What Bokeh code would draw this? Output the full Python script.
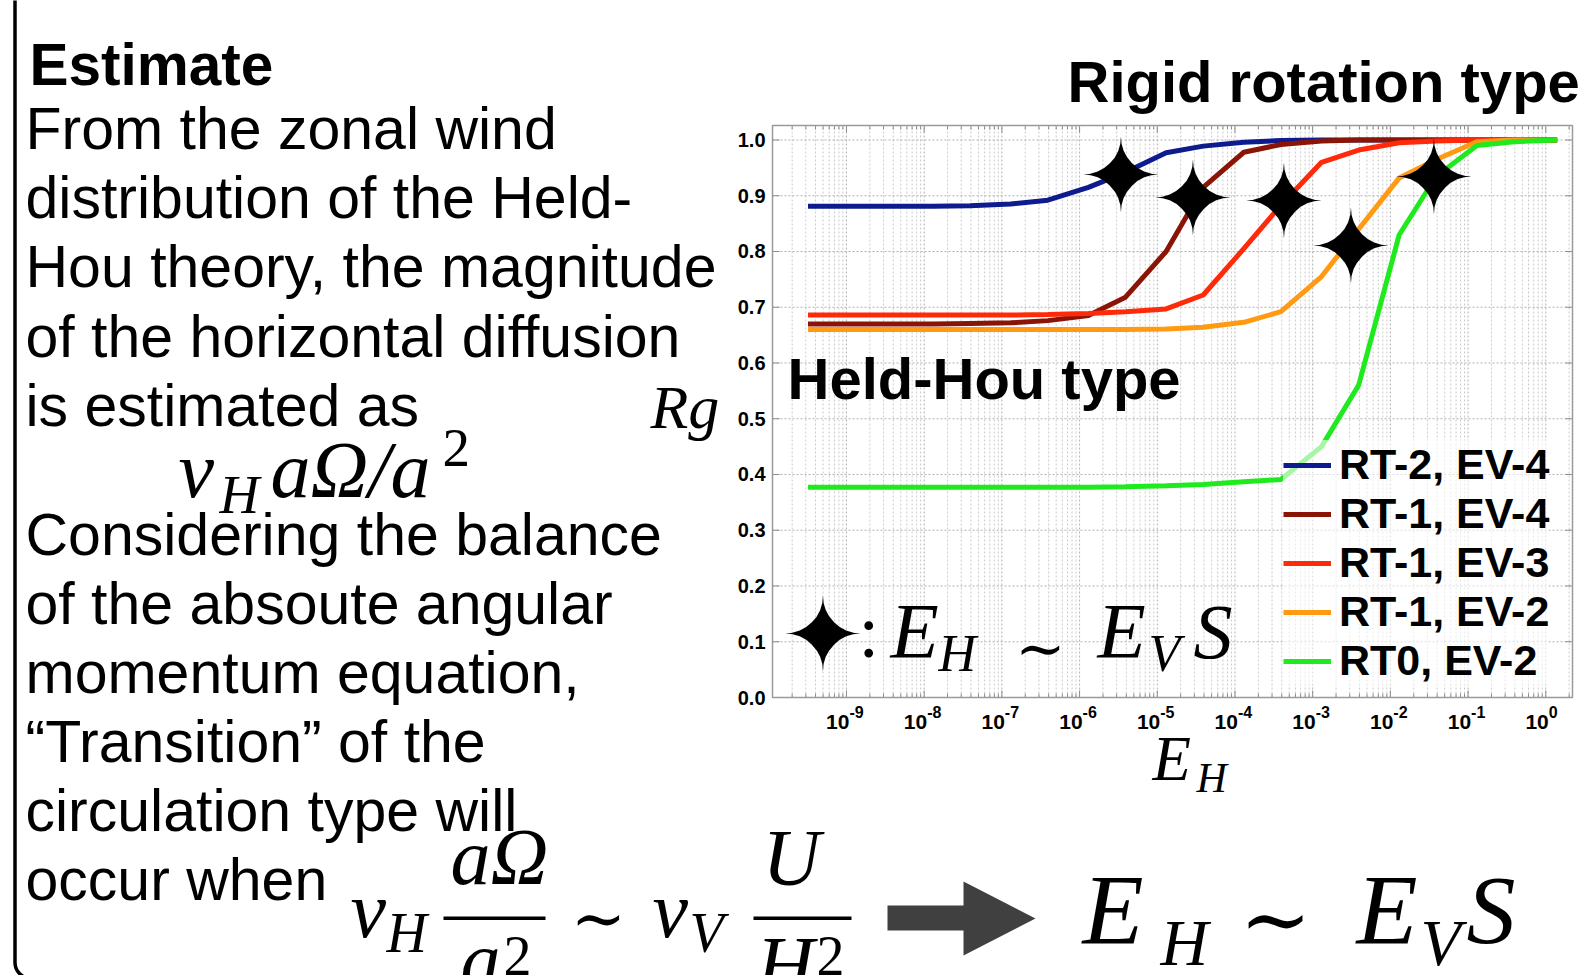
from math import pi
from bokeh.plotting import figure
from bokeh.models import (Range1d, LinearScale, LogScale, Label, Legend, LegendItem,
                          BoxAnnotation, PolyAnnotation)
from bokeh.core.properties import value
from bokeh.embed import file_html
from bokeh.resources import INLINE

# ---------------- data ----------------
eh = [3.2e-10, 1.3e-9, 3.9e-9, 1.3e-8, 3.9e-8, 1.3e-7, 3.9e-7, 1.3e-6, 3.9e-6, 1.3e-5,
      3.9e-5, 1.3e-4, 3.9e-4, 1.3e-3, 3.9e-3, 1.3e-2, 3.9e-2, 1.3e-1, 3.9e-1, 1.4]
rg_rt2_ev4 = [0.881, 0.881, 0.881, 0.881, 0.882, 0.885, 0.892, 0.915, 0.942, 0.977,
              0.989, 0.996, 0.999, 1.0, 1.0, 1.0, 1.0, 1.0, 1.0, 1.0]
rg_rt1_ev4 = [0.670, 0.670, 0.670, 0.670, 0.671, 0.672, 0.676, 0.685, 0.718, 0.800,
              0.915, 0.978, 0.992, 0.998, 1.0, 1.0, 1.0, 1.0, 1.0, 1.0]
rg_rt1_ev3 = [0.686, 0.686, 0.686, 0.686, 0.686, 0.686, 0.687, 0.689, 0.692, 0.697,
              0.722, 0.805, 0.883, 0.960, 0.982, 0.995, 0.998, 1.0, 1.0, 1.0]
rg_rt1_ev2 = [0.660, 0.660, 0.660, 0.660, 0.660, 0.660, 0.660, 0.660, 0.660, 0.661,
              0.664, 0.673, 0.692, 0.755, 0.840, 0.932, 0.965, 0.997, 1.0, 1.0]
rg_rt0_ev2 = [0.377, 0.377, 0.377, 0.377, 0.377, 0.377, 0.377, 0.377, 0.378, 0.380,
              0.382, 0.387, 0.391, 0.450, 0.560, 0.830, 0.935, 0.990, 0.997, 1.0]

series_names = ["RT-2, EV-4", "RT-1, EV-4", "RT-1, EV-3", "RT-1, EV-2", "RT0, EV-2"]
series_values = [rg_rt2_ev4, rg_rt1_ev4, rg_rt1_ev3, rg_rt1_ev2, rg_rt0_ev2]
series_colors = ["#0d1b8e", "#8a1406", "#ff2a0a", "#ff9a12", "#1eea1e"]

star_eh = [3.4e-6, 2.9e-5, 4.2e-4, 3.1e-3, 3.6e-2]
star_rg = [0.939, 0.896, 0.891, 0.811, 0.935]

x_ticks = [1e-9, 1e-8, 1e-7, 1e-6, 1e-5, 1e-4, 1e-3, 1e-2, 1e-1, 1e0]
x_tick_exps = ["-9", "-8", "-7", "-6", "-5", "-4", "-3", "-2", "-1", "0"]
y_ticks = [0.0, 0.1, 0.2, 0.3, 0.4, 0.5, 0.6, 0.7, 0.8, 0.9, 1.0]
y_tick_labels = ["0.0", "0.1", "0.2", "0.3", "0.4", "0.5", "0.6", "0.7", "0.8", "0.9", "1.0"]
x_minor = [m * 10.0 ** e for e in range(-10, 1) for m in range(2, 10)]

# ---------------- page / chart geometry (pixels) ----------------
W, H = 1579, 975
K = 0.38          # baseline correction (fraction of font size) for alphabetic texts


def Y(y):
    """screen y (from top) -> data y of the page coordinate system"""
    return H - y


CH_L, CH_R, CH_T, CH_B = 772, 1572, 125, 697      # chart box on the page
XLOG = (-9.952, 0.344)                             # log10 limits of the chart x axis
YLIM = (0.0, 1.026)
dec_px = (CH_R - CH_L) / (XLOG[1] - XLOG[0])
rg_px = (CH_B - CH_T) / (YLIM[1] - YLIM[0])
x_lo, x_hi = 10 ** XLOG[0], 10 ** XLOG[1]

p = figure(width=W, height=H, x_range=Range1d(0, W), y_range=Range1d(0, H),
           x_axis_location=None, y_axis_location=None, title=None,
           output_backend="svg", toolbar_location=None, min_border=0)
p.grid.visible = False
p.outline_line_color = None
p.background_fill_color = "white"
p.border_fill_color = "white"

p.extra_x_ranges = {"ex": Range1d(10 ** (XLOG[0] - CH_L / dec_px),
                                  10 ** (XLOG[1] + (W - CH_R) / dec_px))}
p.extra_x_scales = {"ex": LogScale()}
p.extra_y_ranges = {"rg": Range1d(YLIM[0] - (H - CH_B) / rg_px, YLIM[1] + CH_T / rg_px)}
p.extra_y_scales = {"rg": LinearScale()}
C = dict(x_range_name="ex", y_range_name="rg")

# ---------------- chart: grid, ticks, frame ----------------
x_minor_in = [m for m in x_minor if x_lo < m < x_hi]
p.segment(x0=x_minor_in, y0=YLIM[0], x1=x_minor_in, y1=YLIM[1], line_color="#cacaca",
          line_width=1, line_dash="2 2", **C)
p.segment(x0=x_ticks, y0=YLIM[0], x1=x_ticks, y1=YLIM[1], line_color="#b0b0b0",
          line_width=1, line_dash="2 2", **C)
p.segment(x0=x_lo, y0=y_ticks, x1=x_hi, y1=y_ticks, line_color="#b0b0b0",
          line_width=1, line_dash="2 2", **C)

TICK = "#8c8c8c"
p.ray(x=x_ticks, y=YLIM[0], length=7, length_units="screen", angle=pi / 2,
      line_color=TICK, line_width=1, **C)
p.ray(x=x_minor_in, y=YLIM[0], length=4, length_units="screen", angle=pi / 2,
      line_color=TICK, line_width=1, **C)
p.ray(x=x_ticks, y=YLIM[1], length=7, length_units="screen", angle=-pi / 2,
      line_color=TICK, line_width=1, **C)
p.ray(x=x_minor_in, y=YLIM[1], length=4, length_units="screen", angle=-pi / 2,
      line_color=TICK, line_width=1, **C)
p.ray(x=x_lo, y=y_ticks, length=7, length_units="screen", angle=0,
      line_color=TICK, line_width=1, **C)
p.ray(x=x_hi, y=y_ticks, length=7, length_units="screen", angle=pi,
      line_color=TICK, line_width=1, **C)

# tick labels
p.text(x=x_ticks, y=Y(729 - K * 21), text=["10"] * len(x_ticks), x_range_name="ex",
       text_font=value("Liberation Sans"), text_font_style="bold", text_font_size="21px",
       text_align="right", text_baseline="alphabetic", x_offset=3, text_color="black")
p.text(x=x_ticks, y=Y(718 - K * 16), text=x_tick_exps, x_range_name="ex",
       text_font=value("Liberation Sans"), text_font_style="bold", text_font_size="16px",
       text_align="left", text_baseline="alphabetic", x_offset=3, text_color="black")
p.text(x=765, y=y_ticks, text=y_tick_labels, y_range_name="rg",
       text_font=value("Liberation Sans"), text_font_style="bold", text_font_size="20px",
       text_align="right", text_baseline="middle", text_color="black")

# ---------------- data lines ----------------
items = []
for name, vals, col in zip(series_names, series_values, series_colors):
    r = p.line(eh, vals, line_color=col, line_width=5, **C)
    items.append(LegendItem(label=name, renderers=[r]))

p.add_layout(BoxAnnotation(left=CH_L, right=CH_R, top=Y(CH_T), bottom=Y(CH_B),
                           fill_alpha=0, line_color="#9a9a9a", line_alpha=1, line_width=1.5))

legend = Legend(items=items, location=(1283, 290), label_text_font="Liberation Sans",
                label_text_font_style="bold", label_text_font_size="43px",
                label_text_color="black", glyph_width=48, glyph_height=30, label_standoff=8,
                spacing=0, padding=0, margin=0, border_line_color=None,
                background_fill_color="white", background_fill_alpha=0.6)
p.add_layout(legend)

# stars E_H ~ E_V S
p.text(x=star_eh, y=star_rg, text=["\u2726"] * len(star_eh), text_font=value("DejaVu Sans"),
       text_font_size="100px", text_align="center", text_baseline="middle", y_offset=2,
       text_color="black", **C)


def lab(x, y, t, size, font="Liberation Sans", style="normal", align="left",
        baseline="alphabetic", color="black"):
    yy = y - K * size if baseline == "alphabetic" else y
    p.add_layout(Label(x=x, y=Y(yy), text=t, text_font=font, text_font_size=f"{size}px",
                       text_font_style=style, text_align=align, text_baseline=baseline,
                       text_color=color))


SERIF = "Liberation Serif"
# ---- slide text (left column) ----
lab(29, 86, "Estimate", 58.5, style="bold")
para1 = ["From the zonal wind", "distribution of the Held-", "Hou theory, the magnitude",
         "of the horizontal diffusion", "is estimated as"]
for i, t in enumerate(para1):
    lab(25, 151 + 69.2 * i, t, 59)
para2 = ["Considering the balance", "of the absoute angular", "momentum equation,",
         "\u201cTransition\u201d of the", "circulation type will", "occur when"]
for i, t in enumerate(para2):
    lab(25, 557 + 69 * i, t, 59)

# inline math  nu_H a Omega / a^2
lab(178, 500, "\u03bd", 80, SERIF, "italic")
lab(219, 515, "H", 55, SERIF, "italic")
lab(270, 500, "a\u03a9/a", 80, SERIF, "italic")
lab(442, 468, "2", 55, SERIF)

# headings
lab(1067, 103, "Rigid rotation type", 58, style="bold")
lab(787, 400, "Held-Hou type", 58, style="bold")

# axis labels
lab(650, 430, "Rg", 62, SERIF, "italic")
lab(1152, 782, "E", 63, SERIF, "italic")
lab(1196, 793, "H", 42, SERIF, "italic")

# star key inside the chart
p.text(x=[822], y=[Y(633)], text=["\u2726"], text_font=value("DejaVu Sans"),
       text_font_size="100px", text_align="center", text_baseline="middle", y_offset=2,
       text_color="black")
lab(858, 660, ":", 74, SERIF)
lab(890, 660, "E", 79, SERIF, "italic")
lab(938, 673, "H", 52, SERIF, "italic")
lab(1040, 647, "\u223c", 60, "DejaVu Serif", align="center", baseline="middle")
lab(1097, 660, "E", 79, SERIF, "italic")
lab(1148, 673, "V", 52, SERIF, "italic")
lab(1193, 661, "S", 78, SERIF, "italic")

# bottom equation
lab(350, 940, "\u03bd", 80, SERIF, "italic")
lab(386, 954, "H", 56, SERIF, "italic")
lab(450, 887, "a\u03a9", 80, SERIF, "italic")
p.add_layout(BoxAnnotation(left=443, right=545, top=Y(916), bottom=Y(919.5),
                           fill_color="black", fill_alpha=1, line_color=None))
lab(460, 990, "a", 80, SERIF, "italic")
lab(503, 977, "2", 56, SERIF)
lab(598, 918, "\u223c", 66, "DejaVu Serif", align="center", baseline="middle")
lab(652, 940, "\u03bd", 80, SERIF, "italic")
lab(689, 954, "V", 56, SERIF, "italic")
lab(762, 888, "U", 80, SERIF, "italic")
p.add_layout(BoxAnnotation(left=753, right=851, top=Y(916), bottom=Y(919.5),
                           fill_color="black", fill_alpha=1, line_color=None))
lab(756, 995, "H", 80, SERIF, "italic")
lab(816, 977, "2", 56, SERIF)

# big arrow
ARROW = "#404040"
p.add_layout(BoxAnnotation(left=887, right=964, top=Y(905), bottom=Y(930),
                           fill_color=ARROW, fill_alpha=1, line_color=None))
p.add_layout(PolyAnnotation(xs=[963, 1035, 963], ys=[Y(881), Y(918), Y(955)],
                            fill_color=ARROW, fill_alpha=1, line_color=None))

lab(1082, 947, "E", 100, SERIF, "italic")
lab(1160, 967, "H", 66, SERIF, "italic")
lab(1275, 918, "\u223c", 86, "DejaVu Serif", align="center", baseline="middle")
lab(1356, 947, "E", 100, SERIF, "italic")
lab(1420, 967, "V", 66, SERIF, "italic")
lab(1466, 947, "S", 98, SERIF, "italic")

# rounded frame of the slide box (left edge)
p.add_layout(BoxAnnotation(left=14.5, right=3000, top=Y(-200), bottom=Y(978),
                           fill_alpha=0, line_color="black", line_alpha=1, line_width=3.5,
                           border_radius=16))

open("out.html", "w").write(file_html(p, INLINE))
